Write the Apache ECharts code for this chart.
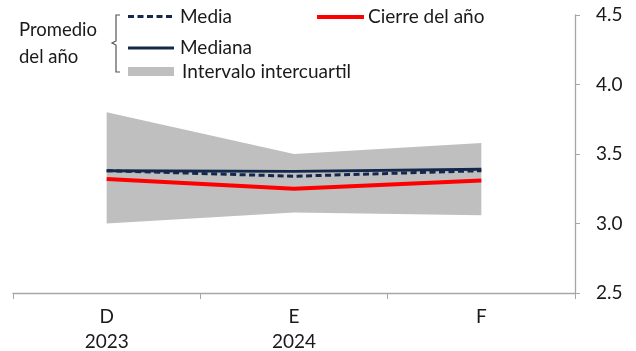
<!DOCTYPE html>
<html><head><meta charset="utf-8">
<script src="https://cdn.jsdelivr.net/npm/echarts@6/dist/echarts.min.js"></script>
<style>html,body{margin:0;padding:0;background:#fff}#c{width:636px;height:351px}</style>
</head><body><div id="c"></div>
<script>
var categories = ['D\n2023', 'E\n2024', 'F'];
var iqrLow = [3.00, 3.08, 3.06];
var iqrHigh = [3.80, 3.50, 3.58];
var media = [3.38, 3.34, 3.38];
var mediana = [3.38, 3.375, 3.39];
var cierre = [3.32, 3.25, 3.31];
var yTicks = { min: 2.5, max: 4.5, interval: 0.5 };

var FONT = 'Lato, "Open Sans", sans-serif';
var NAVY = '#14284b';
var TXT = '#1a1a1a';
var chart = echarts.init(document.getElementById('c'), null, { renderer: 'canvas' });
var bandSpan = iqrHigh.map(function (v, i) { return +(v - iqrLow[i]).toFixed(4); });

function label(text, x, y, size) {
  return { type: 'text', x: x, y: y, style: { text: text, fontSize: size, fontFamily: FONT, fill: TXT, verticalAlign: 'middle', align: 'left' } };
}

chart.setOption({
  animation: false,
  textStyle: { fontFamily: FONT },
  grid: { left: 13, right: 61, top: 15, bottom: 58, containLabel: false, outerBoundsMode: 'none' },
  xAxis: {
    type: 'category', data: categories, boundaryGap: true,
    axisLine: { lineStyle: { color: '#a6a6a6', width: 1.3 } },
    axisTick: { show: true, length: 6, lineStyle: { color: '#a6a6a6' } },
    axisLabel: { color: TXT, fontSize: 19, lineHeight: 25, margin: 11, fontFamily: FONT },
    splitLine: { show: false }
  },
  yAxis: {
    type: 'value', position: 'right', min: yTicks.min, max: yTicks.max, interval: yTicks.interval,
    axisLine: { show: true, lineStyle: { color: '#a6a6a6', width: 1.3 } },
    axisTick: { show: true, length: 5, lineStyle: { color: '#a6a6a6' } },
    axisLabel: { color: TXT, fontSize: 19, margin: 21, fontFamily: FONT,
      formatter: function (v) { return v.toFixed(1); } },
    splitLine: { show: false }
  },
  series: [
    { name: 'low', type: 'line', stack: 'band', data: iqrLow, symbol: 'none',
      lineStyle: { opacity: 0 }, silent: true, z: 1 },
    { name: 'Intervalo intercuartil', type: 'line', stack: 'band', data: bandSpan, symbol: 'none',
      lineStyle: { opacity: 0 }, areaStyle: { color: '#bfbfbf', opacity: 1 }, silent: true, z: 1 },
    { name: 'Cierre del año', type: 'line', data: cierre, symbol: 'none',
      lineStyle: { color: '#ff0000', width: 4 }, z: 3 },
    { name: 'Mediana', type: 'line', data: mediana, symbol: 'none',
      lineStyle: { color: NAVY, width: 3 }, z: 4 },
    { name: 'Media', type: 'line', data: media, symbol: 'none',
      lineStyle: { color: NAVY, width: 3, type: [6, 3.5] }, z: 5 }
  ],
  graphic: [
    label('Promedio', 19, 30, 18.5),
    label('del año', 19, 57, 18.5),
    { type: 'polyline', shape: { points: [[120, 15], [116, 15], [116, 41], [112, 43], [116, 45], [116, 72], [120, 72]] },
      style: { stroke: '#555', lineWidth: 1.2, fill: null } },
    { type: 'line', shape: { x1: 128, y1: 16.5, x2: 174, y2: 16.5 }, style: { stroke: NAVY, lineWidth: 3, lineDash: [6, 3.5] } },
    label('Media', 180, 17, 19),
    { type: 'line', shape: { x1: 128, y1: 48, x2: 174, y2: 48 }, style: { stroke: NAVY, lineWidth: 3 } },
    label('Mediana', 180, 48, 19),
    { type: 'rect', shape: { x: 128, y: 67, width: 46, height: 9 }, style: { fill: '#bfbfbf' } },
    label('Intervalo intercuartil', 182, 72, 19),
    { type: 'line', shape: { x1: 317, y1: 17, x2: 364, y2: 17 }, style: { stroke: '#ff0000', lineWidth: 4 } },
    label('Cierre del año', 368, 17, 19)
  ]
});
</script></body></html>
